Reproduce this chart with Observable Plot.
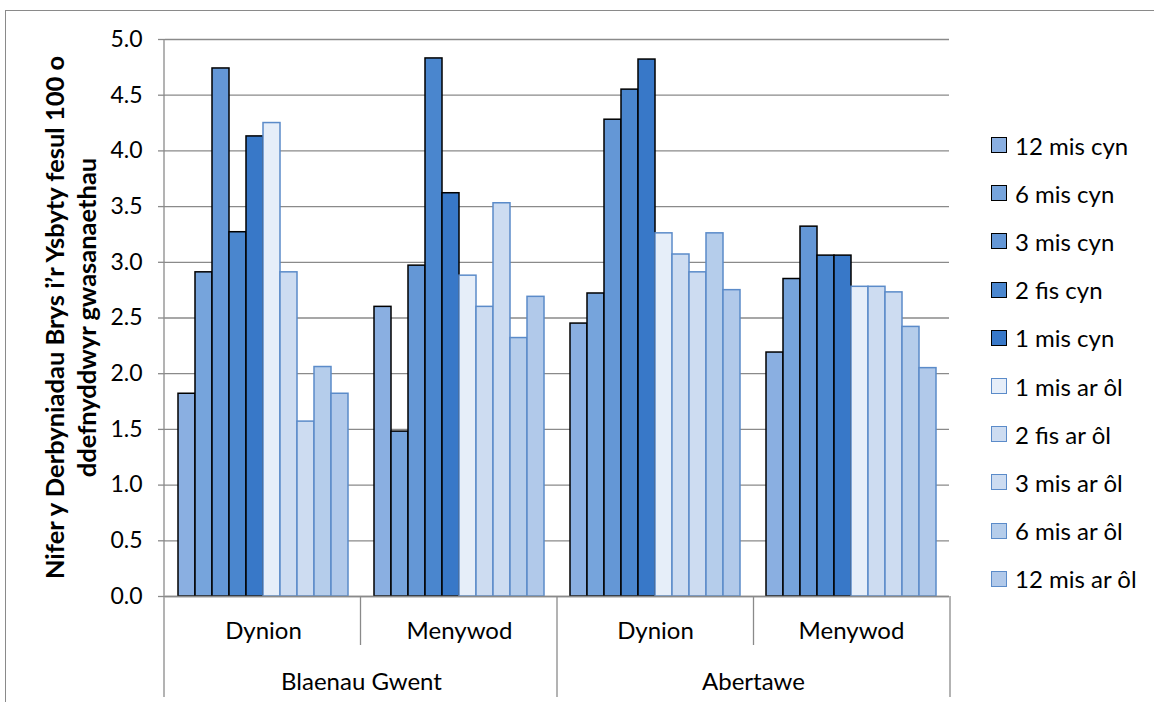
<!DOCTYPE html>
<html>
<head>
<meta charset="utf-8">
<script src="https://cdn.jsdelivr.net/npm/d3@7"></script>
<script src="https://cdn.jsdelivr.net/npm/@observablehq/plot@0.6"></script>
<style>
  html, body { margin: 0; padding: 0; background: #fff; }
  #wrap { position: relative; width: 1154px; height: 702px; overflow: hidden; font-family: Lato, "Open Sans", sans-serif; }
  #border { position: absolute; left: 5px; top: 10px; width: 1300px; height: 900px; border: 1.3px solid #8a8a8a; box-sizing: border-box; }
  #chart { position: absolute; left: 0; top: 0; }
  #legend { position: absolute; left: 991px; top: 121px; }
  .item { display: flex; align-items: center; height: 48.2px; font-size: 24px; color: #000; white-space: nowrap; }
  .sw { width: 16px; height: 16px; box-sizing: border-box; margin-right: 8px; }
</style>
</head>
<body>
<div id="wrap">
  <div id="border"></div>
  <div id="chart"></div>
  <div id="legend"></div>
</div>
<script>
// Regions, sexes and time periods around the intervention
const regions = ["Blaenau Gwent", "Abertawe"];
const sexes = ["Dynion", "Menywod"];
const periods = ["12 mis cyn", "6 mis cyn", "3 mis cyn", "2 fis cyn", "1 mis cyn",
                 "1 mis ar ôl", "2 fis ar ôl", "3 mis ar ôl", "6 mis ar ôl", "12 mis ar ôl"];

// Emergency admissions per 100 service users, one value per period
const blaenauGwentDynion  = [1.82, 2.91, 4.74, 3.27, 4.13, 4.25, 2.91, 1.57, 2.06, 1.82];
const blaenauGwentMenywod = [2.60, 1.48, 2.97, 4.83, 3.62, 2.88, 2.60, 3.53, 2.32, 2.69];
const abertaweDynion      = [2.45, 2.72, 4.28, 4.55, 4.82, 3.26, 3.07, 2.91, 3.26, 2.75];
const abertaweMenywod     = [2.19, 2.85, 3.32, 3.06, 3.06, 2.78, 2.78, 2.73, 2.42, 2.05];

const yTicks = [0, 0.5, 1, 1.5, 2, 2.5, 3, 3.5, 4, 4.5, 5];

// Period colours: "before" bars are outlined in black, "after" bars in blue
const fills   = ["#8aafe1", "#76a4dc", "#6497d6", "#4a86ce", "#3878c8",
                 "#e6eef9", "#cddcf1", "#cddcf1", "#b5cdeb", "#b1c9ea"];
const strokes = ["#000", "#000", "#000", "#000", "#000",
                 "#5b8bc9", "#5b8bc9", "#5b8bc9", "#5b8bc9", "#5b8bc9"];

const series = [
  [regions[0], sexes[0], blaenauGwentDynion],
  [regions[0], sexes[1], blaenauGwentMenywod],
  [regions[1], sexes[0], abertaweDynion],
  [regions[1], sexes[1], abertaweMenywod]
];
const keys = series.map(([r, s]) => r + "|" + s);
const rows = series.flatMap(([r, s, vals]) =>
  vals.map((v, i) => ({key: r + "|" + s, period: periods[i], i, value: v})));

const grey = "#8a8a8a";

const chart = Plot.plot({
  width: 1154,
  height: 702,
  marginLeft: 164,
  marginRight: 204,
  marginTop: 39,
  marginBottom: 106,
  style: {fontFamily: "Lato, 'Open Sans', sans-serif", fontSize: "24px", color: "#000", background: "transparent"},
  fx: {domain: keys, padding: 0, axis: null},
  x: {domain: periods, paddingInner: 0, paddingOuter: 0.73, axis: null},
  y: {domain: [0, 5]},
  marks: [
    Plot.gridY(yTicks, {stroke: grey, strokeOpacity: 1, strokeWidth: 1.3}),
    Plot.axisY(yTicks, {tickSize: 7, tickPadding: 16, tickFormat: d => d.toFixed(1), fontSize: 23,
                        stroke: grey, strokeWidth: 1.3, fill: "#000", label: null}),
    Plot.barY(rows, {fx: "key", x: "period", y: "value",
                     fill: d => fills[d.i], stroke: d => strokes[d.i], strokeWidth: 1.5}),
    Plot.ruleY([0], {stroke: grey, strokeWidth: 1.3}),
    Plot.text(keys, {fx: d => d, text: d => d.split("|")[1],
                     frameAnchor: "bottom", lineAnchor: "middle", textAnchor: "middle", dy: 35, fill: "#000"}),
    Plot.text(regions, {fx: r => r + "|" + sexes[0], text: d => d,
                        frameAnchor: "bottom-right", lineAnchor: "middle", textAnchor: "middle", dy: 86, fill: "#000"})
  ]
});
document.getElementById("chart").appendChild(chart);

// Category axis dividers and the vertical value axis line
const fxScale = chart.scale("fx");
const yScale = chart.scale("y");
const [r0, r1] = fxScale.range;
const bandStep = (r1 - r0) / keys.length;
const edges = d3.range(keys.length + 1).map(i => r0 + i * bandStep);
const yBase = yScale.apply ? yScale.apply(0) : yScale.range[0];
const yTop = yScale.apply ? yScale.apply(5) : yScale.range[1];
const dividers = d3.select(chart).append("g").attr("stroke", grey).attr("stroke-width", 1.3);
dividers.append("line").attr("x1", edges[0]).attr("x2", edges[0]).attr("y1", yTop).attr("y2", 697);
edges.slice(1).forEach((x, i) => {
  const full = (i + 1) % sexes.length === 0;
  dividers.append("line").attr("x1", x).attr("x2", x).attr("y1", yBase).attr("y2", full ? 697 : 645);
});

// Value axis title, two lines, rotated
const title = d3.select(chart).append("text")
  .attr("transform", `translate(0, ${(yBase + yTop) / 2}) rotate(-90)`)
  .attr("text-anchor", "middle")
  .attr("font-weight", "bold")
  .attr("font-size", 25.5)
  .attr("fill", "#000");
title.append("tspan").attr("x", 0).attr("y", 64).text("Nifer y Derbyniadau Brys i’r Ysbyty fesul 100 o");
title.append("tspan").attr("x", 0).attr("y", 96).text("ddefnyddwyr gwasanaethau");

// Legend
const legend = d3.select("#legend");
periods.forEach((p, i) => {
  const item = legend.append("div").attr("class", "item");
  item.append("div").attr("class", "sw")
    .style("background", fills[i])
    .style("border", `1.5px solid ${strokes[i]}`);
  item.append("span").text(p);
});
</script>
</body>
</html>
